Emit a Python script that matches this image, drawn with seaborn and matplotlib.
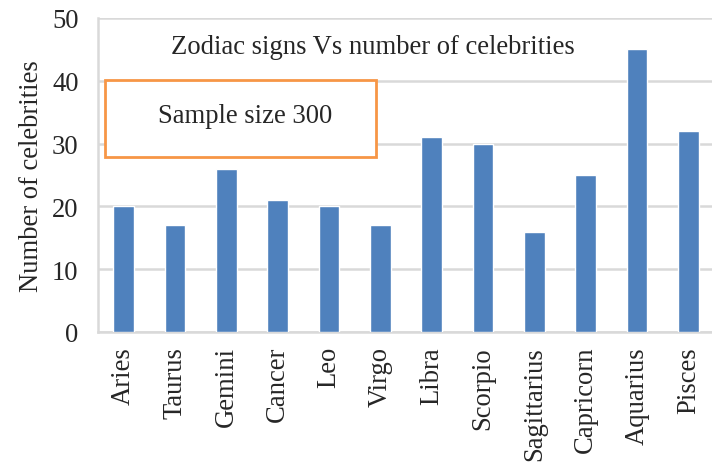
import matplotlib
matplotlib.use("Agg")
import matplotlib.pyplot as plt
import numpy as np
import pandas as pd
import seaborn as sns
from matplotlib.patches import Rectangle

signs = ["Aries", "Taurus", "Gemini", "Cancer", "Leo", "Virgo", "Libra",
         "Scorpio", "Sagittarius", "Capricorn", "Aquarius", "Pisces"]
celebrities = [20, 17, 26, 21, 20, 17, 31, 30, 16, 25, 45, 32]
y_ticks = [0, 10, 20, 30, 40, 50]

sns.set_style("white")
plt.rcParams["font.family"] = ["Liberation Serif", "DejaVu Serif"]

BAR = "#4f81bd"
GRID = "#d9d9d9"
FS = 19.2

df = pd.DataFrame({"Sign": signs, "Count": celebrities})

fig = plt.figure(figsize=(7.12, 4.64), dpi=100)
ax = fig.add_axes([98 / 712, 131 / 464, 616 / 712, 314 / 464])

sns.barplot(data=df, x="Sign", y="Count", color=BAR, width=0.4,
            saturation=1, ax=ax, zorder=3)

ax.set_ylim(0, 50)
ax.set_xlim(-0.5, len(signs) - 0.5)
ax.set_yticks(y_ticks)
ax.yaxis.grid(True, color=GRID, linewidth=1.8, zorder=0)
ax.set_axisbelow(True)

for side in ["top", "right"]:
    ax.spines[side].set_visible(False)
for side in ["left", "bottom"]:
    ax.spines[side].set_color(GRID)
    ax.spines[side].set_linewidth(1.8)

ax.tick_params(axis="y", length=12, width=1.8, color=GRID,
               labelsize=FS, pad=2)
ax.set_xticks(np.arange(len(signs)))
ax.set_xticklabels(signs, rotation=90, fontsize=FS)
ax.tick_params(axis="x", which="major", length=0, pad=10)
ax.set_xticks(np.arange(len(signs) + 1) - 0.5, minor=True)
ax.tick_params(axis="x", which="minor", length=12, width=1.8, color=GRID)

ax.set_xlabel("")
ax.set_ylabel("Number of celebrities", fontsize=FS, labelpad=6)

ax.text(0.446, 0.908, "Zodiac signs Vs number of celebrities",
        transform=ax.transAxes, ha="center", va="center", fontsize=FS)

ax.add_patch(Rectangle((0.011, 0.557), 0.44, 0.246, transform=ax.transAxes,
                       fill=True, facecolor="white", edgecolor="#f79646",
                       linewidth=2, zorder=5, clip_on=False))
ax.text(0.239, 0.688, "Sample size 300", transform=ax.transAxes,
        ha="center", va="center", fontsize=FS, zorder=6)

fig.savefig("out.png", dpi=100)
